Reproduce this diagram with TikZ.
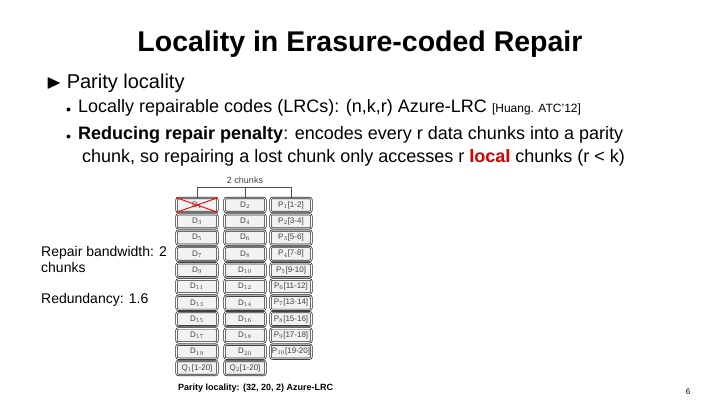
\documentclass[tikz,border=0pt]{standalone}
\usepackage{fontspec}
\setmainfont{Liberation Sans}
\usepackage{amssymb}
\begin{document}
\begin{tikzpicture}[x=1pt,y=-1pt,
 box/.style={draw=black!85,line width=0.7pt,rounded corners=2pt,fill=black!5,minimum width=41pt,minimum height=14pt,inner sep=0pt,font=\fontsize{8}{9}\selectfont,text=black!75,double=white,double distance=0.7pt},
 txt/.style={anchor=west,inner sep=0pt,font=\fontsize{18}{21}\selectfont},
 redl/.style={draw=red,line width=0.9pt}]
\useasboundingbox (0,0) rectangle (720,405);
\node (title) at (360,44) {\fontsize{28.5}{32}\selectfont\bfseries Locality in Erasure-coded Repair};
\node[txt] (b1) at (46,83) {\fontsize{20}{22}\selectfont$\blacktriangleright$\hspace{5pt}Parity locality};
\node[txt] (s1) at (66,108) {\fontsize{10}{12}\selectfont$\bullet$\hspace{7pt}\fontsize{18}{21}\selectfont Locally repairable codes (LRCs): (n,k,r) Azure-LRC {\fontsize{12}{13}\selectfont[Huang. ATC'12]}};
\node[txt] (s2) at (66,135) {\fontsize{10}{12}\selectfont$\bullet$\hspace{7pt}\fontsize{18}{21}\selectfont\textbf{Reducing repair penalty}: encodes every r data chunks into a parity};
\node[txt] (s3) at (82,158) {chunk, so repairing a lost chunk only accesses r \textcolor{red!85!black}{\textbf{local}} chunks (r < k)};
\node[anchor=west,inner sep=0pt,font=\fontsize{14}{16}\selectfont,align=left] (rb) at (41,259) {Repair bandwidth: 2\\chunks};
\node[anchor=west,inner sep=0pt,font=\fontsize{14}{16}\selectfont] (rd) at (41,300) {Redundancy: 1.6};
\foreach \i in {1,...,10}{
 \pgfmathtruncatemacro\a{2*\i-1}\pgfmathtruncatemacro\b{2*\i}
 \pgfmathsetmacro\yy{205+16.3*(\i-1)}
 \node[box] (a\i) at (197,\yy) {D$_{\a}$};
 \node[box] (c\i) at (245,\yy) {D$_{\b}$};
 \node[box] (p\i) at (291,\yy) {P$_{\i}$[\a-\b]};
}
\node[box] (q1) at (197,368) {Q$_1$[1-20]};
\node[box] (q2) at (245,368) {Q$_2$[1-20]};
\draw[redl] (a1.north west) -- (a1.south east) (a1.south west) -- (a1.north east);
\coordinate (t1) at (197,187);\coordinate (t3) at (291,187);
\draw[redl] (a1.north) -- (t1) -- (t3) -- (p1.north);
\draw[redl] (c1.north) -- (c1.north |- t1);
\node[font=\fontsize{9}{10}\selectfont,text=black!75] (lab) at (245,180) {2 chunks};
\node[anchor=west,inner sep=0pt,font=\fontsize{9}{10}\selectfont\bfseries] (cap) at (178,388) {Parity locality: (32, 20, 2) Azure-LRC};
\node[font=\fontsize{8}{9}\selectfont] (pg) at (688,392) {6};
\end{tikzpicture}
\end{document}
